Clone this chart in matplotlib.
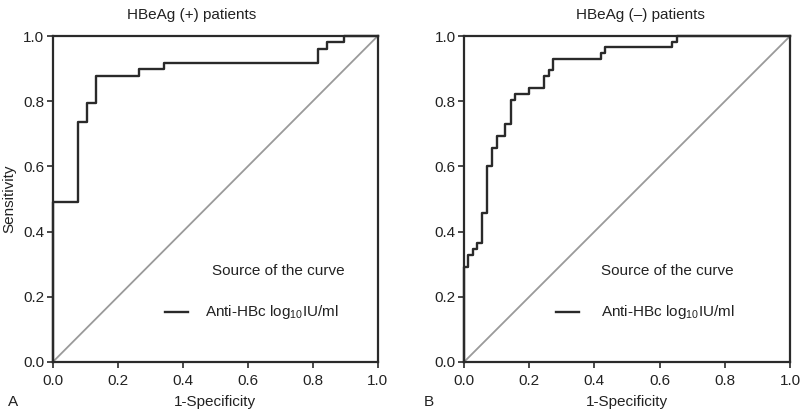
import matplotlib
matplotlib.use('Agg')
import matplotlib.pyplot as plt

plt.rcParams['font.family'] = ['Liberation Sans', 'DejaVu Sans']
plt.rcParams['mathtext.fontset'] = 'custom'
plt.rcParams['mathtext.rm'] = 'Liberation Sans'
plt.rcParams['mathtext.it'] = 'Liberation Sans'

# ROC step points (1-specificity, sensitivity)
fpr_pos = [0.0, 0.0, 0.079, 0.104, 0.132, 0.264, 0.342, 0.817, 0.843, 0.897, 1.0]
tpr_pos = [0.0, 0.491, 0.735, 0.796, 0.878, 0.898, 0.918, 0.960, 0.981, 1.0, 1.0]

fpr_neg = [0.0, 0.0, 0.012, 0.029, 0.041, 0.055, 0.070, 0.086, 0.100, 0.127, 0.143,
           0.157, 0.200, 0.245, 0.260, 0.274, 0.419, 0.432, 0.637, 0.652, 1.0]
tpr_neg = [0.0, 0.292, 0.327, 0.348, 0.366, 0.456, 0.601, 0.656, 0.693, 0.730, 0.804,
           0.822, 0.840, 0.877, 0.896, 0.930, 0.949, 0.967, 0.982, 1.0, 1.0]

titles = ['HBeAg (+) patients', 'HBeAg (\u2013) patients']
panel_letters = ['A', 'B']
ticks = [0.0, 0.2, 0.4, 0.6, 0.8, 1.0]
tick_labels = ['0.0', '0.2', '0.4', '0.6', '0.8', '1.0']

fig = plt.figure(figsize=(8, 4.13), dpi=100)
ax1 = fig.add_axes([0.066, 0.1235, 0.406, 0.789])
ax2 = fig.add_axes([0.58, 0.1235, 0.4075, 0.789])

fs = 11
dark = '#2a2a2a'
txt = '#222222'
panels = [(ax1, fpr_pos, tpr_pos), (ax2, fpr_neg, tpr_neg)]
for i, (ax, fpr, tpr) in enumerate(panels):
    ax.plot([0, 1], [0, 1], color='#9a9a9a', lw=1.3, zorder=1)
    ax.plot(fpr, tpr, drawstyle='steps-post', color=dark, lw=1.7, zorder=2,
            clip_on=False)
    ax.set_xlim(0, 1)
    ax.set_ylim(0, 1)
    ax.set_xticks(ticks)
    ax.set_yticks(ticks)
    ax.set_xticklabels(tick_labels, fontsize=fs, color=txt)
    ax.set_yticklabels(tick_labels, fontsize=fs, color=txt)
    ax.tick_params(direction='out', length=4, width=1.2, color=dark)
    ax.tick_params(axis='x', pad=5)
    ax.tick_params(axis='y', pad=2)
    for s in ax.spines.values():
        s.set_color(dark)
        s.set_linewidth(1.6)
    ax.set_xlabel('1-Specificity', fontsize=fs, color=txt, labelpad=5)

# legend-like text inside the panels
ax1.text(0.489, 0.28, 'Source of the curve', fontsize=fs, color=txt,
         va='center', ha='left')
ax1.plot([0.345, 0.416], [0.152, 0.152], color=dark, lw=1.7)
ax1.text(0.468, 0.152, 'Anti-HBc log$_{10}$IU/ml', fontsize=fs, color=txt,
         va='center', ha='left')

ax2.text(0.42, 0.28, 'Source of the curve', fontsize=fs, color=txt,
         va='center', ha='left')
ax2.plot([0.282, 0.353], [0.152, 0.152], color=dark, lw=1.7)
ax2.text(0.42, 0.152, 'Anti-HBc log$_{10}$IU/ml', fontsize=fs, color=txt,
         va='center', ha='left')

ax1.set_ylabel('Sensitivity', fontsize=fs, color=txt, labelpad=5)

fig.text(192 / 800, 1 - 15 / 413, titles[0], fontsize=fs, ha='center', va='center',
         color=txt)
fig.text(640 / 800, 1 - 15 / 413, titles[1], fontsize=fs, ha='center', va='center',
         color=txt)
fig.text(13 / 800, 1 - 402 / 413, panel_letters[0], fontsize=fs, ha='center',
         va='center', color=txt)
fig.text(429 / 800, 1 - 402 / 413, panel_letters[1], fontsize=fs, ha='center',
         va='center', color=txt)

fig.savefig('out.png', dpi=100)
